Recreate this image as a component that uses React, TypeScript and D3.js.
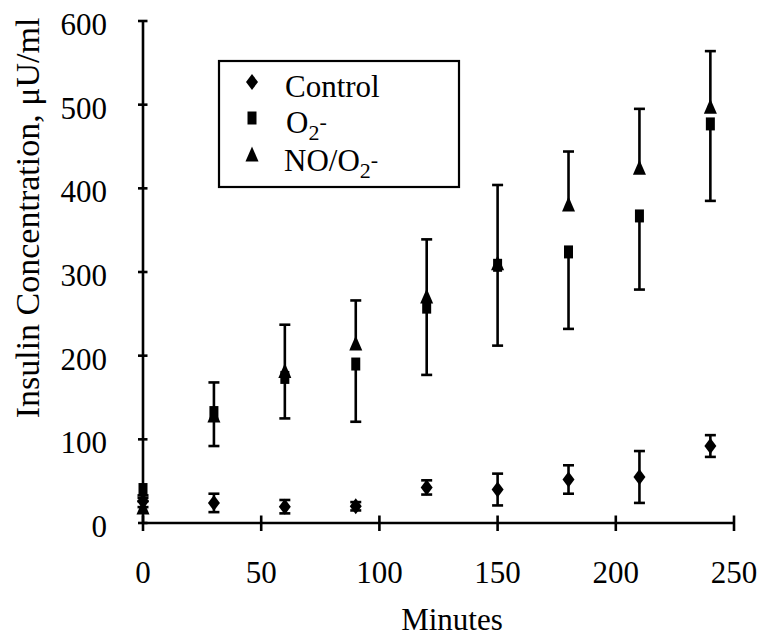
import React from "react";
import * as d3 from "d3";

const times = [0, 30, 60, 90, 120, 150, 180, 210, 240];
const controlMean = [26, 24, 19.5, 20, 42.5, 40, 52, 55, 92];
const controlErr = [7, 11, 8, 5, 8.5, 19, 17, 31, 13];
const o2Mean = [40, 132, 174, 190, 258, 308, 324, 367, 477];
const o2ErrMinus = [10, 40, 49, 69, 81, 96, 92, 88, 92];
const noMean = [18, 128, 181, 214, 270, 310, 380, 424, 497];
const noErrPlus = [8, 40, 56, 52, 69, 94, 64, 71, 67];

const xTicks = [0, 50, 100, 150, 200, 250];
const yTicks = [0, 100, 200, 300, 400, 500, 600];

const W = 774;
const H = 639;
const FONT = "'Liberation Serif', 'Times New Roman', serif";

const x = d3.scaleLinear().domain([0, 250]).range([143, 734]);
const y = d3.scaleLinear().domain([0, 600]).range([523, 21]);

const diamond = (cx: number, cy: number) =>
  `M${cx},${cy - 8}L${cx + 6},${cy}L${cx},${cy + 8}L${cx - 6},${cy}Z`;
const square = (cx: number, cy: number) =>
  `M${cx - 4.5},${cy - 6.5}h9v13h-9Z`;
const triangle = (cx: number, cy: number) =>
  `M${cx},${cy - 8.5}L${cx + 6.5},${cy + 6.5}L${cx - 6.5},${cy + 6.5}Z`;

const CAP = 5.5;
const SW = 2.6;

function ErrBar({ cx, y1, y2, caps }: { cx: number; y1: number; y2: number; caps: number[] }) {
  return (
    <g stroke="#000" strokeWidth={SW}>
      <line x1={cx} x2={cx} y1={y1} y2={y2} />
      {caps.map((cy, i) => (
        <line key={i} x1={cx - CAP} x2={cx + CAP} y1={cy} y2={cy} />
      ))}
    </g>
  );
}

export default function App() {
  return (
    <svg
      width={W}
      height={H}
      style={{ position: "absolute", left: 0, top: 0, background: "#fff" }}
      fontFamily={FONT}
    >
      <rect width={W} height={H} fill="#fff" />
      {/* axes */}
      <g stroke="#000" strokeWidth={2.6}>
        <line x1={x(0)} x2={x(0)} y1={y(600)} y2={y(0)} />
        <line x1={x(0)} x2={x(250)} y1={y(0)} y2={y(0)} />
        {yTicks.map((t) => (
          <line key={"yt" + t} x1={x(0) - 5} x2={x(0) + 4.5} y1={y(t)} y2={y(t)} />
        ))}
        {xTicks.map((t) => (
          <line key={"xt" + t} x1={x(t)} x2={x(t)} y1={y(0) - 7.5} y2={y(0) + 8} />
        ))}
      </g>
      {yTicks.map((t) => (
        <text key={"yl" + t} x={107} y={y(t) + 14} textAnchor="end" fontSize={31} fill="#000">
          {t}
        </text>
      ))}
      {xTicks.map((t) => (
        <text key={"xl" + t} x={x(t)} y={583} textAnchor="middle" fontSize={31} fill="#000">
          {t}
        </text>
      ))}
      <text x={452} y={630} textAnchor="middle" fontSize={31} fill="#000">
        Minutes
      </text>
      <text
        transform={`translate(39,218) rotate(-90)`}
        textAnchor="middle"
        fontSize={34}
        fill="#000"
      >
        Insulin Concentration, μU/ml
      </text>

      {/* error bars */}
      {times.map((t, i) => (
        <ErrBar
          key={"ce" + i}
          cx={x(t)}
          y1={y(controlMean[i] - controlErr[i])}
          y2={y(controlMean[i] + controlErr[i])}
          caps={[y(controlMean[i] - controlErr[i]), y(controlMean[i] + controlErr[i])]}
        />
      ))}
      {times.map((t, i) => (
        <ErrBar
          key={"oe" + i}
          cx={x(t)}
          y1={y(o2Mean[i])}
          y2={y(o2Mean[i] - o2ErrMinus[i])}
          caps={[y(o2Mean[i] - o2ErrMinus[i])]}
        />
      ))}
      {times.map((t, i) => (
        <ErrBar
          key={"ne" + i}
          cx={x(t)}
          y1={y(noMean[i])}
          y2={y(noMean[i] + noErrPlus[i])}
          caps={[y(noMean[i] + noErrPlus[i])]}
        />
      ))}

      {/* markers */}
      {times.map((t, i) => (
        <path key={"cm" + i} d={diamond(x(t), y(controlMean[i]))} fill="#000" />
      ))}
      {times.map((t, i) => (
        <path key={"om" + i} d={square(x(t), y(o2Mean[i]))} fill="#000" />
      ))}
      {times.map((t, i) => (
        <path key={"nm" + i} d={triangle(x(t), y(noMean[i]))} fill="#000" />
      ))}

      {/* legend */}
      <rect x={219} y={61} width={240} height={126} fill="#fff" stroke="#000" strokeWidth={2.2} />
      <path d={diamond(252, 82)} fill="#000" />
      <path d={square(252, 118)} fill="#000" />
      <path d={triangle(252, 155)} fill="#000" />
      <text x={285} y={97} fontSize={31} fill="#000">Control</text>
      <text x={286} y={133} fontSize={31} fill="#000">
        O<tspan fontSize={22} dy={7}>2</tspan>
        <tspan fontSize={22} dy={-11}>-</tspan>
      </text>
      <text x={284} y={171} fontSize={31} fill="#000">
        NO/O<tspan fontSize={22} dy={7}>2</tspan>
        <tspan fontSize={22} dy={-11}>-</tspan>
      </text>
    </svg>
  );
}
